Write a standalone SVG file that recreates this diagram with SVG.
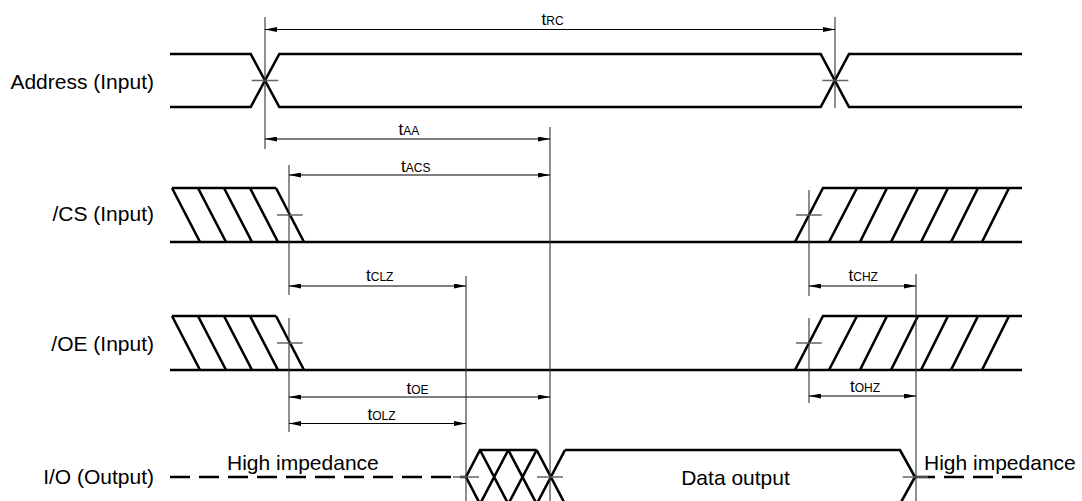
<svg xmlns="http://www.w3.org/2000/svg" width="1082" height="501" viewBox="0 0 1082 501">
<style>
.sig{fill:none;stroke:#000;stroke-width:2.6;stroke-linejoin:miter}
.dash{fill:none;stroke:#000;stroke-width:2.6;stroke-dasharray:20 9}
.ref{fill:none;stroke:#333;stroke-width:1.1}
.tick{fill:none;stroke:#666;stroke-width:1.3}
.dim{fill:none;stroke:#000;stroke-width:1;marker-start:url(#ah);marker-end:url(#ah)}
.lbl{font-family:"Liberation Sans",Arial,sans-serif;font-size:21px;fill:#000}
.t{font-family:"Liberation Sans",Arial,sans-serif;font-size:17px;fill:#000}
.sub{font-size:12px}
</style>
<defs>
<marker id="ah" viewBox="0 0 12 5" refX="12" refY="2.5" markerWidth="12" markerHeight="5" markerUnits="userSpaceOnUse" orient="auto-start-reverse">
<path d="M0,0 L12,2.5 L0,5 z" fill="#000"/>
</marker>
</defs>

<g id="address">
<text class="lbl" x="154" y="88.5" text-anchor="end">Address (Input)</text>
<path class="sig" d="M170,54 H250.7 L279.3,107 H820.7 L849,54 H1022"/>
<path class="sig" d="M170,107 H250.7 L279.3,54 H820.7 L849,107 H1022"/>
<path class="tick" d="M251.7,80.5 H278.3 M822.3,80.5 H848.3"/>
</g>

<g id="cs">
<text class="lbl" x="154" y="220.5" text-anchor="end">/CS (Input)</text>
<path class="sig" d="M172,188 H276 M170,242 H1022"/>
<path class="sig" d="M172,188 L200,242 M198,188 L226,242 M224,188 L252,242 M250,188 L278,242 M276,188 L304,242"/>
<path class="sig" d="M795,242 L823,188 H1022"/>
<path class="sig" d="M829,242 L857,188 M860,242 L887,188 M891,242 L918,188 M921,242 L948,188 M951,242 L978,188 M982,242 L1009,188"/>
<path class="tick" d="M277,215 H302.7 M796,215 H821.7"/>
</g>

<g id="oe">
<text class="lbl" x="154" y="351" text-anchor="end">/OE (Input)</text>
<path class="sig" d="M172,316 H276 M170,370 H1022"/>
<path class="sig" d="M172,316 L200,370 M198,316 L226,370 M224,316 L252,370 M250,316 L278,370 M276,316 L304,370"/>
<path class="sig" d="M795,370 L823,316 H1022"/>
<path class="sig" d="M829,370 L857,316 M860,370 L887,316 M891,370 L918,316 M921,370 L948,316 M951,370 L978,316 M982,370 L1009,316"/>
<path class="tick" d="M277,343 H302.7 M796,343 H821.7"/>
</g>

<g id="io">
<text class="lbl" x="154" y="483.5" text-anchor="end">I/O (Output)</text>
<path class="dash" d="M170,477 H466"/>
<text class="lbl" x="227" y="470">High impedance</text>
<path class="sig" d="M480,504 L466,477 L480,450 H536.7 M480,504 H536.7"/>
<path class="sig" d="M480,450 L508.3,504 M508.3,450 L536.7,504 M536.7,450 L565,504 M480,504 L508.3,450 M508.3,504 L536.7,450 M536.7,504 L565,450"/>
<path class="sig" d="M565,450 H900 L915,477 L900,504 H565"/>
<text class="lbl" x="735.5" y="484.5" text-anchor="middle">Data output</text>
<path class="dash" d="M915,477 H1022"/>
<text class="lbl" x="924" y="469.5">High impedance</text>
<path class="tick" d="M453,477 H479 M537,477 H563 M902.7,477 H928"/>
</g>

<g id="connectors">
<path class="ref" d="M265,17 V149 M835,17 V108 M550,127 V501 M289,165 V295 M289,318 V432 M466,276 V501 M809,190 V296 M809,318 V403 M916,274 V501"/>
<path class="dim" d="M265,29.5 H835"/>
<path class="dim" d="M265,139 H550"/>
<path class="dim" d="M289,175 H550"/>
<path class="dim" d="M289,286 H466"/>
<path class="dim" d="M809,286 H916"/>
<path class="dim" d="M289,397 H550"/>
<path class="dim" d="M289,423.5 H466"/>
<path class="dim" d="M809,396 H916"/>
<text class="t" x="541.5" y="25">t<tspan class="sub">RC</tspan></text>
<text class="t" x="398.5" y="135">t<tspan class="sub">AA</tspan></text>
<text class="t" x="401" y="171.5">t<tspan class="sub">ACS</tspan></text>
<text class="t" x="366" y="281">t<tspan class="sub">CLZ</tspan></text>
<text class="t" x="848.5" y="281">t<tspan class="sub">CHZ</tspan></text>
<text class="t" x="406.5" y="393.5">t<tspan class="sub">OE</tspan></text>
<text class="t" x="367.5" y="420">t<tspan class="sub">OLZ</tspan></text>
<text class="t" x="850" y="392">t<tspan class="sub">OHZ</tspan></text>
</g>
</svg>
